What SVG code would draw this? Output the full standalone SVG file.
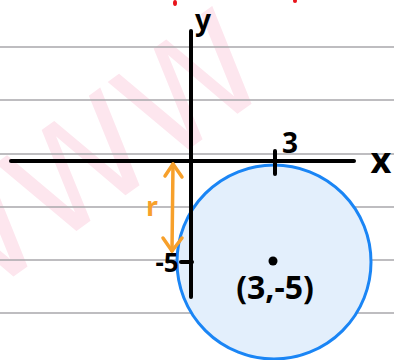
<svg xmlns="http://www.w3.org/2000/svg" width="394" height="360" viewBox="0 0 394 360">
<style>
.rule{stroke:#a9a7ab;stroke-width:1.6}
.axis{stroke:#000;stroke-width:4;stroke-linecap:round;fill:none}
.lbl{font-family:"Noto Sans","DejaVu Sans",sans-serif;font-weight:bold;fill:#000}
.org{stroke:#f7a02b;stroke-width:3.5;stroke-linecap:round;stroke-linejoin:round;fill:none}
</style>
<rect width="394" height="360" fill="#fff"/>
<g id="watermark">
<text x="0" y="0" transform="translate(-60,330) rotate(-36)" font-family="DejaVu Sans, sans-serif" font-size="140" fill="#fde6ee">WWW</text>
</g>
<g id="rules">
<line class="rule" x1="0" y1="47" x2="394" y2="47"/>
<line class="rule" x1="0" y1="100" x2="394" y2="100"/>
<line class="rule" x1="0" y1="154" x2="394" y2="154"/>
<line class="rule" x1="0" y1="207" x2="394" y2="207"/>
<line class="rule" x1="0" y1="260" x2="394" y2="260"/>
<line class="rule" x1="0" y1="313" x2="394" y2="313"/>
</g>
<g id="red-marks" fill="#e8141b">
<ellipse cx="175" cy="3" rx="2" ry="3"/>
<ellipse cx="295" cy="1" rx="2" ry="2"/>
</g>
<g id="circle">
<circle cx="274" cy="262" r="97" fill="#e3effc" stroke="#1a85f5" stroke-width="3"/>
<circle cx="273" cy="261" r="4.5" fill="#000"/>
<text class="lbl" x="275" y="299" font-size="32" text-anchor="middle">(3,-5)</text>
</g>
<g id="axes">
<line class="axis" x1="11" y1="161" x2="354" y2="161"/>
<line class="axis" x1="191" y1="31" x2="191" y2="297"/>
<line class="axis" x1="275" y1="151" x2="275" y2="174"/>
<line class="axis" x1="181" y1="262" x2="192" y2="262" stroke-width="3"/>
<text class="lbl" x="381" y="173" font-size="36" text-anchor="middle">x</text>
<text class="lbl" x="203" y="30" font-size="28" text-anchor="middle">y</text>
<text class="lbl" x="290" y="153" font-size="28" text-anchor="middle">3</text>
<text class="lbl" x="167" y="272" font-size="26" text-anchor="middle">-5</text>
</g>
<g id="connectors">
<line class="org" x1="173" y1="164" x2="172" y2="251"/>
<polyline class="org" points="165,176 173,164 182,177"/>
<polyline class="org" points="163,238 172,251 182,238"/>
<text x="152" y="216" font-family="Noto Sans, DejaVu Sans, sans-serif" font-weight="bold" font-size="26" fill="#f7a02b" text-anchor="middle">r</text>
</g>
</svg>
